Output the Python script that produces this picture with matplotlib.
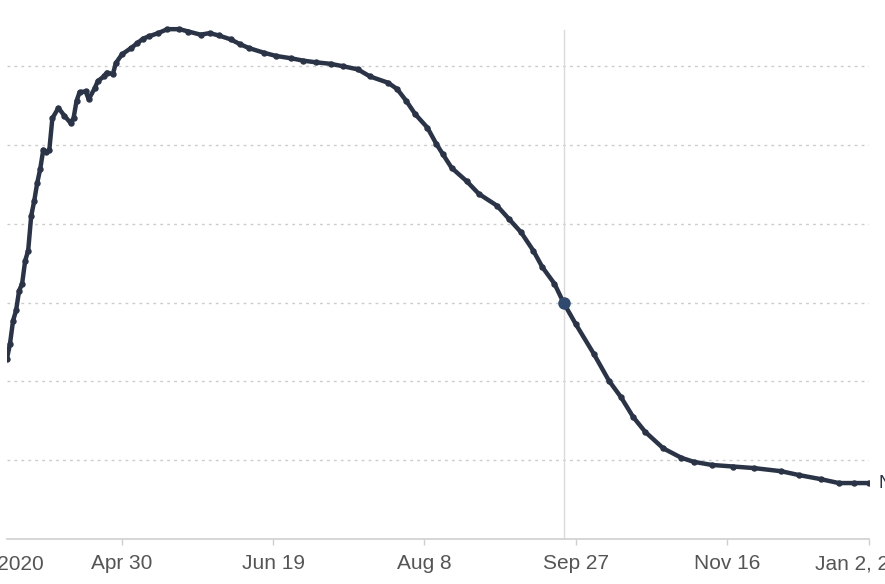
import matplotlib
matplotlib.use("Agg")
import matplotlib.pyplot as plt
import pandas as pd

# series: days since the first date, and values
start_date = "2020-03-23"
day_offsets = [0, 1, 2, 3, 4, 5, 6, 7, 8, 9, 10, 11, 12, 13, 14, 15, 17, 19, 21, 22,
               23, 24, 26, 27, 29, 30, 32, 33, 35, 36, 38, 41, 43, 45, 47, 50, 53, 57,
               60, 64, 67, 70, 74, 77, 80, 85, 89, 94, 98, 102, 107, 111, 116, 120,
               126, 129, 132, 135, 139, 142, 144, 147, 152, 156, 162, 166, 170, 174,
               177, 181, 184, 188, 194, 199, 203, 207, 211, 217, 223, 227, 233, 240,
               247, 256, 262, 269, 275, 280, 285]
values = [2.29, 2.48, 2.77, 2.90, 3.15, 3.24, 3.53, 3.66, 4.10, 4.29, 4.52, 4.70, 4.94,
          4.91, 4.94, 5.34, 5.47, 5.37, 5.28, 5.34, 5.56, 5.67, 5.68, 5.58, 5.72, 5.81,
          5.87, 5.92, 5.90, 6.04, 6.15, 6.23, 6.29, 6.35, 6.38, 6.42, 6.47, 6.47, 6.44,
          6.40, 6.42, 6.39, 6.34, 6.28, 6.23, 6.17, 6.13, 6.10, 6.07, 6.05, 6.03, 6.00,
          5.96, 5.87, 5.79, 5.71, 5.56, 5.39, 5.22, 5.01, 4.89, 4.71, 4.54, 4.38, 4.23,
          4.06, 3.89, 3.66, 3.45, 3.24, 3.00, 2.73, 2.35, 2.01, 1.80, 1.55, 1.36, 1.15,
          1.03, 0.98, 0.94, 0.92, 0.90, 0.86, 0.81, 0.76, 0.71, 0.71, 0.71]

tick_dates = ["2020-04-30", "2020-06-19", "2020-08-08", "2020-09-27", "2020-11-16", "2021-01-02"]
tick_labels = ["Apr 30", "Jun 19", "Aug 8", "Sep 27", "Nov 16", "Jan 2, 2021"]
first_label = "Mar 23, 2020"
grid_values = [1, 2, 3, 4, 5, 6]

hover_date = "2020-09-23"
hover_value = 3.00
series_name = "New"

line_color = "#2b3447"
grid_color = "#cccccc"
text_color = "#555555"

plt.rcParams["font.family"] = ["Liberation Sans Narrow", "Liberation Sans", "DejaVu Sans"]

dates = pd.to_datetime(start_date) + pd.to_timedelta(day_offsets, unit="D")

W, H = 885, 584
fig = plt.figure(figsize=(W / 100, H / 100), dpi=100)
# axes box in pixels: left 7, right 869, bottom (y=0) 539, top 22
ax = fig.add_axes([7 / W, (H - 539) / H, (869 - 7) / W, (539 - 22) / H])

ax.set_xlim(dates[0], dates[-1])
ax.set_ylim(0, (539 - 22) / 78.8)

for g in grid_values:
    ax.axhline(g, color=grid_color, lw=1.0, ls=(0, (2, 3)), zorder=1)

# hover crosshair
hd = pd.to_datetime(hover_date)
ax.plot([hd, hd], [0, (539 - 30) / 78.8], color="#dadada", lw=1.0, zorder=2)

ax.plot(dates, values, color=line_color, lw=3.2, marker="o", ms=3.6,
        solid_joinstyle="round", solid_capstyle="round", zorder=3)
ax.plot([hd], [hover_value], marker="o", ms=8, color="#2f4a6e", zorder=4)

ax.text(dates[-1], values[-1], "  " + series_name, color=line_color, fontsize=13,
        va="center", ha="left", clip_on=False)

for side in ["top", "right", "left"]:
    ax.spines[side].set_visible(False)
ax.spines["bottom"].set_color("#cfcfcf")
ax.spines["bottom"].set_linewidth(1.2)

ax.set_yticks([])
ax.set_xticks(pd.to_datetime(tick_dates))
ax.set_xticklabels(tick_labels)
ax.tick_params(axis="x", colors="#cfcfcf", labelcolor=text_color, labelsize=15,
               length=4, width=1, pad=7)

fig.text(44 / W, (H - 570) / H, first_label, ha="right", va="baseline",
         fontsize=15, color=text_color)

fig.savefig("out.png", dpi=100, facecolor="white")
